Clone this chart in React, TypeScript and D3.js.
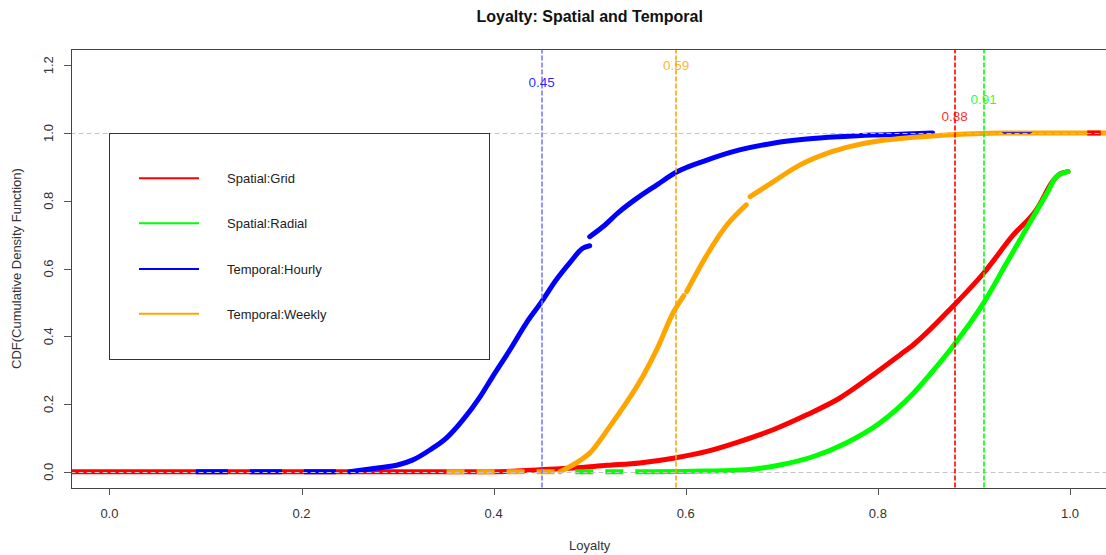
import React from "react";
import * as d3 from "d3";

// ---- data -------------------------------------------------------------
const X_TICKS = [0, 0.2, 0.4, 0.6, 0.8, 1.0];
const Y_TICKS = [0, 0.2, 0.4, 0.6, 0.8, 1.0, 1.2];

const SERIES_NAMES = ["Spatial:Grid", "Spatial:Radial", "Temporal:Hourly", "Temporal:Weekly"];
const SERIES_COLORS = ["#ff0000", "#00ff00", "#0000ff", "#ffa500"];

// Median loyalty per series
const MEDIANS = [0.88, 0.91, 0.45, 0.59];
const MEDIAN_LABEL_Y = [1.05, 1.1, 1.15, 1.2];

// ECDF traces as [loyalty, cdf] pairs, split where the point cloud breaks
const gridCdf: [number, number][][] = [
  [
    [-0.04, 0], [0.4, 0], [0.448, 0.006], [0.483, 0.011], [0.518, 0.019], [0.552, 0.026],
    [0.587, 0.04], [0.622, 0.06], [0.656, 0.089], [0.691, 0.124], [0.726, 0.168],
    [0.76, 0.217], [0.795, 0.286], [0.823, 0.345], [0.837, 0.375], [0.878, 0.488],
    [0.91, 0.586], [0.941, 0.699], [0.965, 0.773], [0.983, 0.861], [0.99, 0.88], [0.998, 0.886],
  ],
];
const gridTop: [number, number][] = [[1.018, 1], [1.032, 1]];

const radialZero: [number, number] = [0.485, 0.56];
const radialCdf: [number, number][][] = [
  [
    [0.56, 0], [0.62, 0.002], [0.663, 0.006], [0.698, 0.02], [0.733, 0.045], [0.767, 0.085],
    [0.802, 0.144], [0.837, 0.232], [0.858, 0.3], [0.878, 0.37], [0.91, 0.498],
    [0.934, 0.616], [0.958, 0.734], [0.976, 0.822], [0.986, 0.871], [0.998, 0.886],
  ],
];

const hourlyZero: [number, number] = [0.09, 0.25];
const hourlyCdf: [number, number][][] = [
  [
    [0.25, 0], [0.281, 0.012], [0.3, 0.02], [0.316, 0.035], [0.334, 0.065], [0.351, 0.1],
    [0.368, 0.153], [0.386, 0.222], [0.399, 0.281], [0.417, 0.36], [0.434, 0.439],
    [0.45, 0.502], [0.465, 0.566], [0.479, 0.616], [0.493, 0.66], [0.5, 0.667],
  ],
  [
    [0.5, 0.694], [0.514, 0.724], [0.531, 0.768], [0.549, 0.807], [0.57, 0.847],
    [0.59, 0.884], [0.622, 0.92], [0.656, 0.95], [0.691, 0.97], [0.726, 0.982],
    [0.76, 0.989], [0.795, 0.994], [0.823, 0.996], [0.857, 1.0],
  ],
];
const hourlyTop: [number, number][] = [[0.93, 1], [0.96, 1]];

const weeklyZero: [number, number] = [0.351, 0.469];
const weeklyCdf: [number, number][][] = [
  [
    [0.469, 0], [0.486, 0.026], [0.5, 0.055], [0.521, 0.134], [0.538, 0.203],
    [0.556, 0.285], [0.571, 0.368], [0.587, 0.47], [0.598, 0.52],
  ],
  [[0.601, 0.532], [0.622, 0.64], [0.643, 0.729], [0.663, 0.788]],
  [
    [0.667, 0.812], [0.691, 0.856], [0.719, 0.906], [0.747, 0.94], [0.774, 0.962],
    [0.802, 0.977], [0.823, 0.984], [0.86, 0.992], [0.9, 0.998], [0.93, 1.0], [1.05, 1.0],
  ],
];

// ---- layout -----------------------------------------------------------
const W = 1106;
const H = 555;
const PLOT = { left: 71, right: 1108.4, top: 49, bottom: 488 };
const FONT = "'Liberation Sans', Arial, sans-serif";

export default function App() {
  const x = d3.scaleLinear().domain([-0.04, 1.04]).range([PLOT.left, PLOT.right]);
  const y = d3.scaleLinear().domain([-0.048, 1.248]).range([PLOT.bottom, PLOT.top]);

  const line = d3
    .line<[number, number]>()
    .x((d) => x(d[0]))
    .y((d) => y(d[1]))
    .curve(d3.curveMonotoneX);
  const straight = d3
    .line<[number, number]>()
    .x((d) => x(d[0]))
    .y((d) => y(d[1]));

  const fmt = d3.format(".1f");
  const crisp = (v: number) => Math.round(v) + 0.5;

  const curves = [gridCdf, radialCdf, hourlyCdf, weeklyCdf];
  const zeros: ([number, number] | null)[] = [null, radialZero, hourlyZero, weeklyZero];
  const zeroDash = ["", "18 12", "32 22", "18 12"];

  const legendLeft = x(0);
  const legendTop = y(1);
  const legendW = 380;
  const legendH = 226;
  const legendRows = [178.3, 223.3, 269, 313.7];

  return (
    <svg
      width={W}
      height={H}
      style={{ position: "absolute", left: 0, top: 0, background: "#fff" }}
      fontFamily={FONT}
    >
      <defs>
        <clipPath id="plot-clip">
          <rect x={PLOT.left} y={PLOT.top} width={PLOT.right - PLOT.left} height={PLOT.bottom - PLOT.top} />
        </clipPath>
      </defs>
      <rect x={0} y={0} width={W} height={H} fill="#fff" />

      {/* title */}
      <text x={(PLOT.left + PLOT.right) / 2} y={22} textAnchor="middle" fontWeight="bold" fontSize={16} fill="#111">
        Loyalty: Spatial and Temporal
      </text>

      {/* curves */}
      <g clipPath="url(#plot-clip)" fill="none" strokeLinecap="round" strokeLinejoin="round">
        {curves.map((segs, i) => (
          <g key={SERIES_NAMES[i]}>
            {zeros[i] && (
              <path
                d={straight([[zeros[i]![0], 0], [zeros[i]![1], 0]])!}
                stroke={SERIES_COLORS[i]}
                strokeWidth={5}
                strokeLinecap="butt"
                strokeDasharray={zeroDash[i]}
              />
            )}
            {segs.map((s, j) => (
              <path key={j} d={line(s)!} stroke={SERIES_COLORS[i]} strokeWidth={5} />
            ))}
          </g>
        ))}
        <path d={straight(hourlyTop)!} stroke={SERIES_COLORS[2]} strokeWidth={1.5} />
        <path d={straight(gridTop)!} stroke={SERIES_COLORS[0]} strokeWidth={5} strokeLinecap="butt" />

        {/* reference lines at 0 and 1 */}
        {[0, 1].map((v) => (
          <line
            key={v}
            x1={PLOT.left}
            x2={PLOT.right}
            y1={crisp(y(v))}
            y2={crisp(y(v))}
            stroke="#c4c4c4"
            strokeWidth={1}
            strokeDasharray="4 4"
          />
        ))}

        {/* median markers */}
        {MEDIANS.map((m, i) => (
          <line
            key={SERIES_NAMES[i]}
            x1={Math.round(x(m))}
            x2={Math.round(x(m))}
            y1={PLOT.top}
            y2={PLOT.bottom}
            stroke={i === 2 ? "#7a7aff" : SERIES_COLORS[i]}
            strokeWidth={1.6}
            strokeDasharray="4 3"
          />
        ))}
      </g>

      {MEDIANS.map((m, i) => (
        <text
          key={SERIES_NAMES[i]}
          x={x(m)}
          y={y(MEDIAN_LABEL_Y[i]) + 5}
          textAnchor="middle"
          fontSize={13.5}
          fill={SERIES_COLORS[i]}
          fillOpacity={0.85}
        >
          {m.toFixed(2)}
        </text>
      ))}

      {/* plot frame */}
      <rect
        x={PLOT.left + 0.5}
        y={PLOT.top + 0.5}
        width={PLOT.right - PLOT.left}
        height={PLOT.bottom - PLOT.top}
        fill="none"
        stroke="#444"
        strokeWidth={1}
      />

      {/* x axis */}
      <g>
        {X_TICKS.map((t) => (
          <g key={t}>
            <line x1={crisp(x(t))} x2={crisp(x(t))} y1={PLOT.bottom} y2={PLOT.bottom + 7} stroke="#555" />
            <text x={x(t)} y={518} textAnchor="middle" fontSize={13} fill="#333">
              {fmt(t)}
            </text>
          </g>
        ))}
        <text x={(PLOT.left + PLOT.right) / 2} y={550} textAnchor="middle" fontSize={13} fill="#333">
          Loyalty
        </text>
      </g>

      {/* y axis */}
      <g>
        {Y_TICKS.map((t) => (
          <g key={t}>
            <line x1={PLOT.left - 7} x2={PLOT.left} y1={crisp(y(t))} y2={crisp(y(t))} stroke="#555" />
            <text
              transform={`translate(53,${y(t)}) rotate(-90)`}
              textAnchor="middle"
              fontSize={13}
              fill="#333"
            >
              {fmt(t)}
            </text>
          </g>
        ))}
        <text
          transform={`translate(21,${(PLOT.top + PLOT.bottom) / 2}) rotate(-90)`}
          textAnchor="middle"
          fontSize={13}
          fill="#333"
        >
          CDF(Cumulative Density Function)
        </text>
      </g>

      {/* legend */}
      <g>
        <rect
          x={crisp(legendLeft)}
          y={crisp(legendTop)}
          width={legendW}
          height={legendH}
          fill="#fff"
          stroke="#333"
          strokeWidth={1}
        />
        {SERIES_NAMES.map((name, i) => (
          <g key={name}>
            <line x1={139} x2={199} y1={legendRows[i]} y2={legendRows[i]} stroke={SERIES_COLORS[i]} strokeWidth={2} />
            <text x={227} y={legendRows[i] + 5} fontSize={13} fill="#222">
              {name}
            </text>
          </g>
        ))}
      </g>
    </svg>
  );
}
